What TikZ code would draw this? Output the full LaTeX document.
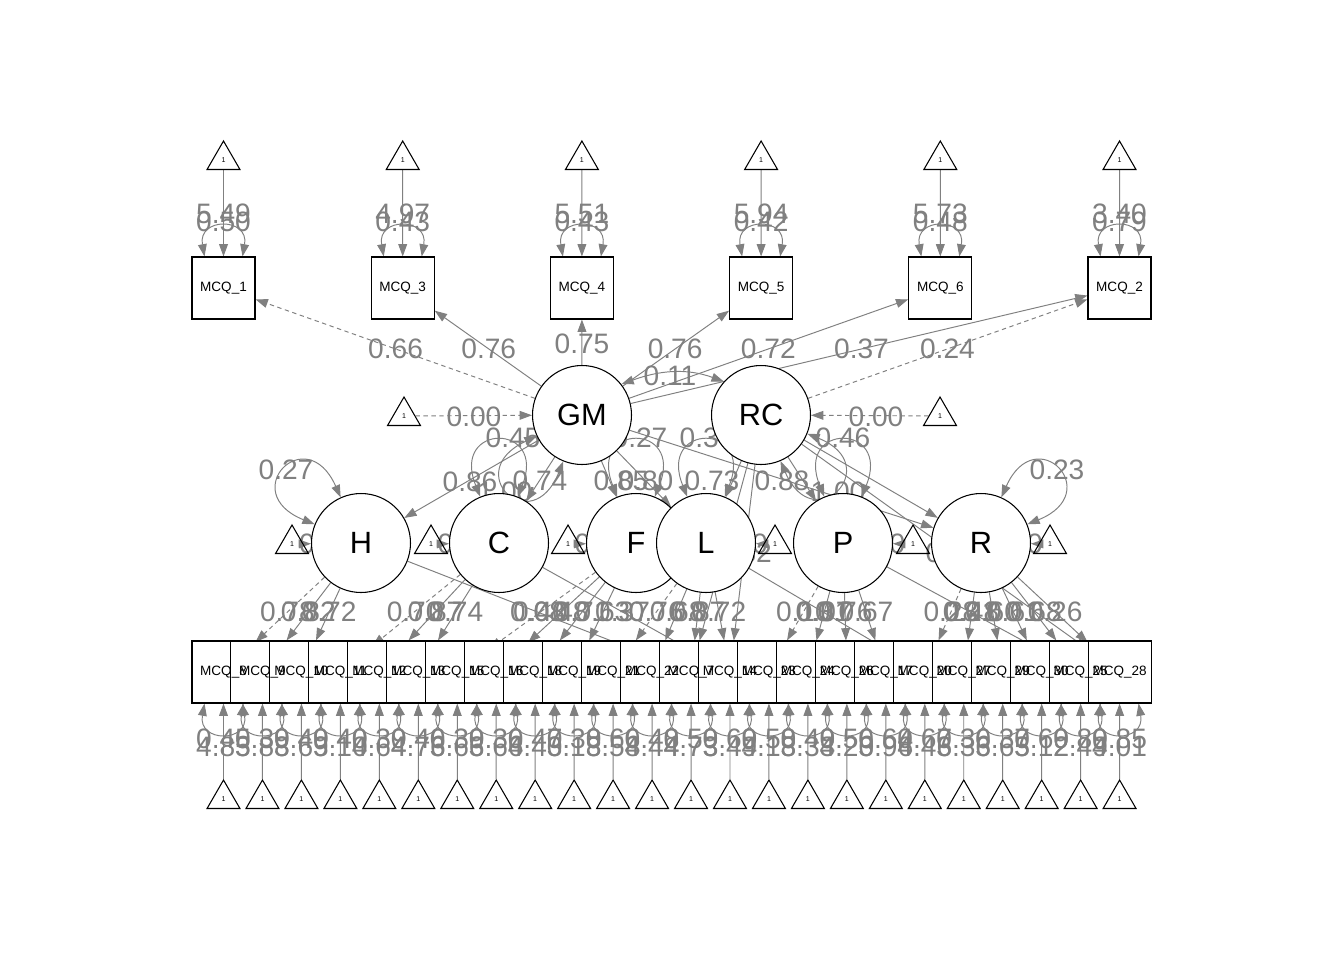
\documentclass[tikz,border=0pt]{standalone}
\usepackage{fontspec}
\setmainfont{Liberation Sans}
\usetikzlibrary{arrows.meta,shapes.geometric,calc}
\pgfdeclarelayer{bg}
\pgfsetlayers{bg,main}
\newcommand\labf{\fontsize{16}{16}\selectfont}
\newcommand\latf{\fontsize{17.5}{18}\selectfont}
\newcommand\boxf{\fontsize{7.7}{8}\selectfont}
\newcommand\trif{\fontsize{4}{4}\selectfont}
\tikzset{
  ed/.style={draw=gray, line width=0.55pt, -{Triangle[length=7pt,width=5pt]}},
  ded/.style={ed, dash pattern=on 2.5pt off 2pt},
  bi/.style={draw=gray, line width=0.55pt, {Triangle[length=7pt,width=5pt]}-{Triangle[length=7pt,width=5pt]}},
  mbox/.style={draw, fill=white, line width=0.6pt, minimum width=1.26cm, minimum height=1.24cm, inner sep=0pt},
  boxtext/.style={font=\boxf, inner sep=0pt},
  lat/.style={circle, draw, line width=0.6pt, fill=white, minimum size=1.98cm, inner sep=0pt, font=\latf},
  tri/.style={regular polygon, regular polygon sides=3, draw, line width=0.6pt, minimum size=0.76cm, inner sep=0pt, font=\trif},
  lab/.style={text=gray, font=\labf, inner sep=0pt},
}
\begin{document}
\begin{tikzpicture}[x=0.02cm,y=0.02cm]
\useasboundingbox (0,0) rectangle (1344,-960);
% ---------- nodes ----------
\foreach \j/\n in {0/1,1/3,2/4,3/5,4/6,5/2} {
  \node[mbox] (t\n) at ({223.5+179.2*\j},-288) {};
  \node[boxtext] (tl\n) at (t\n) {MCQ\_\n};
  \node[tri] (tt\n) at ({223.5+179.2*\j},-160) {1};
}
\foreach \i in {0,...,23} {
  \node[mbox] (b\i) at ({223.5+38.96*\i},-672) {};
  \node[tri] (tb\i) at ({223.5+38.96*\i},-799) {1};
}
\foreach \n [count=\i from 0] in {8,9,10,11,12,13,15,16,18,19,21,22,7,14,23,24,26,17,20,27,29,30,25,28} {
  \node[boxtext] (bl\i) at (b\i) {MCQ\_\n};
}
\node[lat] (GM) at (582,-415) {GM};
\node[lat] (RC) at (761,-415) {RC};
\node[tri] (iGM) at (404,-416) {1};
\node[tri] (iRC) at (940,-416) {1};
\node[lat] (H) at (361,-543) {H};
\node[lat] (C) at (499,-543) {C};
\node[lat] (F) at (636,-543) {F};
\node[lat] (L) at (706,-543) {L};
\node[lat] (P) at (843,-543) {P};
\node[lat] (R) at (981,-543) {R};
\node[tri] (iH) at (292,-544) {1};
\node[tri] (iC) at (431,-544) {1};
\node[tri] (iF) at (568,-544) {1};
\node[tri] (iL) at (775,-544) {1};
\node[tri] (iP) at (913,-544) {1};
\node[tri] (iR) at (1050,-544) {1};
% ---------- edges ----------
\begin{pgfonlayer}{bg}
\fill[white] (0,0) rectangle (1344,-960);
% top indicators
\foreach \n/\mu/\va in {1/5.49/0.50,3/4.97/0.43,4/5.51/0.43,5/5.94/0.42,6/5.73/0.48,2/3.40/0.79} {
  \draw[ed] (tt\n) -- (t\n);
  \draw[bi] ($(t\n.north)+(-19,0)$) to[out=100,in=80,distance=0.8cm] ($(t\n.north)+(19,0)$);
  \node[lab] at ($(t\n.north)+(0,43)$) {\mu};
  \node[lab] at ($(t\n.north)+(0,35)$) {\va};
}
% bottom indicators
\foreach \i/\va/\mu in {0/0.45/4.85,1/0.39/3.88,2/0.49/3.69,3/0.40/3.10,4/0.39/4.64,5/0.46/4.76,6/0.39/3.66,7/0.36/3.66,8/0.47/4.40,9/0.38/3.18,10/0.66/3.58,11/0.48/4.44,12/0.59/4.73,13/0.69/3.49,14/0.58/4.18,15/0.49/3.33,16/0.56/4.20,17/0.64/3.96,18/0.67/4.46,19/0.36/3.36,20/0.37/3.65,21/0.69/3.12,22/0.89/2.49,23/0.85/4.01} {
  \draw[ed] (tb\i) -- (b\i);
  \draw[bi] ($(b\i.south)+(-19,0)$) to[out=-100,in=-80,distance=0.8cm] ($(b\i.south)+(19,0)$);
  \node[lab] at ($(b\i.south)+(0,-35)$) {\va};
  \node[lab] at ($(b\i.south)+(0,-43)$) {\mu};
}
% GM / RC loadings on top items
\draw[ded] (GM) -- (t1);
\node[lab] at ($(GM)!0.52!(t1)$) {0.66};
\foreach \n/\v in {3/0.76,5/0.76,6/0.72,2/0.37} {
  \draw[ed] (GM) -- (t\n);
  \node[lab] at ($(GM)!0.52!(t\n)$) {\v};
}
\draw[ed] (GM) -- (t4);
\node[lab] at (582,-344) {0.75};
\draw[ded] (RC) -- (t2);
\node[lab] at ($(RC)!0.52!(t2)$) {0.24};
% covariance GM-RC
\draw[bi] (GM.38) to[out=20,in=160] (RC.138);
\node[lab] at (670,-376) {0.11};
% latent intercepts
\draw[ded] (iGM) -- (GM);
\node[lab] at (474,-417) {0.00};
\draw[ded] (iRC) -- (RC);
\node[lab] at (876,-417) {0.00};
\foreach \t/\f in {iH/H,iC/C,iF/F,iL/L,iP/P,iR/R} {
  \draw[ded] (\t) -- (\f);
  \node[lab] at ($(\t)!0.5!(\f)$) {0.00};
}
% second-order loadings
\draw[ed] (GM) -- (H);
\draw[ed] (GM) -- (C);
\draw[ed] (GM) -- (F);
\draw[ed] (GM) -- (L);
\draw[ed] (GM) -- (R);
\draw[ed] (RC) -- (L);
\draw[ed] (RC) -- (P);
\draw[ed] (RC) -- (R);
\node[lab] at (470,-482) {0.86};
\node[lab] at (540,-481) {0.74};
\node[lab] at (621,-481) {0.85};
\node[lab] at (646,-481) {0.80};
\node[lab] at (712,-481) {0.73};
\node[lab] at (782,-481) {0.88};
% variance loops of latents
\draw[bi] (GM.205) to[out=205,in=248,distance=1.7cm] (GM.248);
\node[lab] at (505,-492) {1.00};
\draw[bi] (RC.-22) to[out=-22,in=-67,distance=1.7cm] (RC.-67);
\node[lab] at (838,-492) {1.00};
\draw[bi] (H.158) to[out=158,in=114,distance=1.7cm] (H.114);
\node[lab] at (286,-470) {0.27};
\draw[bi] (R.66) to[out=66,in=22,distance=1.7cm] (R.22);
\node[lab] at (1057,-470) {0.23};
\draw[bi] (C.112) to[out=112,in=68,distance=1.6cm] (C.68);
\node[lab] at (513,-438) {0.45};
\draw[bi] (F.112) to[out=112,in=68,distance=1.6cm] (F.68);
\node[lab] at (640,-438) {0.27};
\draw[bi] (L.112) to[out=112,in=68,distance=1.6cm] (L.68);
\node[lab] at (707,-438) {0.36};
\draw[bi] (P.112) to[out=112,in=68,distance=1.6cm] (P.68);
\node[lab] at (843,-438) {0.46};
% first-order loadings
\foreach \f/\i/\v in {H/0/0.78,C/3/0.70,F/6/0.40,L/10/0.76,P/14/0.10,R/18/0.28} {
  \draw[ded] (\f) -- (b\i);
  \node[lab] at ($(\f)!0.535!(b\i)$) {\v};
}
\foreach \f/\i/\v in {H/1/0.82,H/2/0.72,C/4/0.87,C/5/0.74,F/7/0.48,F/8/0.71,F/9/0.63,L/11/0.68,L/12/0.87,L/13/0.72,P/15/0.07,P/16/0.76,P/17/0.67,R/19/0.48,R/20/0.60,R/21/0.61,R/22/0.68,R/23/0.26,H/12/0.08,C/13/0.37,L/18/0.31,P/22/0.21} {
  \draw[ed] (\f) -- (b\i);
  \node[lab] at ($(\f)!0.535!(b\i)$) {\v};
}
\draw[ed] (RC) -- (b12);
\draw[ed] (RC) -- (b13);
\node[lab] at ($(RC)!0.535!(b13)$) {0.32};
\draw[ed] (RC) -- (b23);
\node[lab] at ($(RC)!0.535!(b23)$) {0.30};
\end{pgfonlayer}
\end{tikzpicture}
\end{document}
